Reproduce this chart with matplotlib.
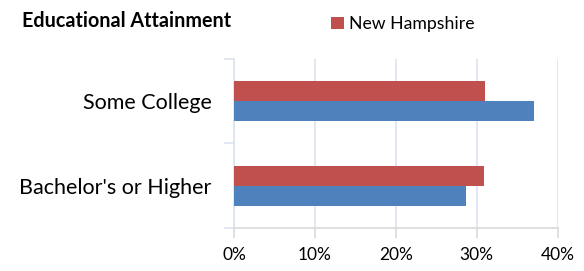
import matplotlib.pyplot as plt
import numpy as np
from matplotlib.ticker import PercentFormatter

plt.rcParams['font.family'] = ['Lato', 'DejaVu Sans']

categories = ["Bachelor's or Higher", "Some College"]
nh_values = [30.9, 31.0]      # New Hampshire (red)
other_values = [28.7, 37.1]   # second series (blue), legend entry not shown
x_ticks = [0, 10, 20, 30, 40]

red = "#C0504D"
blue = "#4F81BD"

fig = plt.figure(figsize=(5.84, 2.71), dpi=100)
ax = fig.add_axes([0.4007, 0.157, 0.5543, 0.627])

y = np.arange(len(categories))
h = 0.24
ax.barh(y + h / 2, nh_values, height=h, color=red, label="New Hampshire", zorder=3)
ax.barh(y - h / 2, other_values, height=h, color=blue, zorder=3)

ax.set_xlim(0, 40)
ax.set_ylim(-0.5, 1.5)
ax.set_xticks(x_ticks)
ax.xaxis.set_major_formatter(PercentFormatter(decimals=0))
ax.set_yticks(y)
ax.set_yticklabels(categories)
ax.set_yticks([-0.5, 0.5, 1.5], minor=True)

ax.grid(axis="x", color="#DCE4F0", linewidth=1.2, zorder=0)
for s in ["top", "right"]:
    ax.spines[s].set_visible(False)
ax.spines["left"].set_color("#DCE4F0")
ax.spines["left"].set_linewidth(1.2)
ax.spines["bottom"].set_color("#D9D9D9")
ax.spines["bottom"].set_linewidth(1.2)

ax.tick_params(axis="y", which="major", length=0, pad=16, labelsize=15.5, labelcolor="#000000")
ax.tick_params(axis="y", which="minor", length=7, color="#DCE4F0", width=1.2)
ax.tick_params(axis="x", length=7, color="#D9D9D9", width=1.2, pad=6, labelsize=12.5)

fig.text(0.038, 0.922, "Educational Attainment", fontsize=14.2, fontweight="bold", va="center")
fig.legend(loc="center left", bbox_to_anchor=(0.54, 0.912), frameon=False,
           fontsize=12.7, handlelength=0.7, handleheight=0.7, handletextpad=0.3)

fig.savefig("out.png", dpi=100)
